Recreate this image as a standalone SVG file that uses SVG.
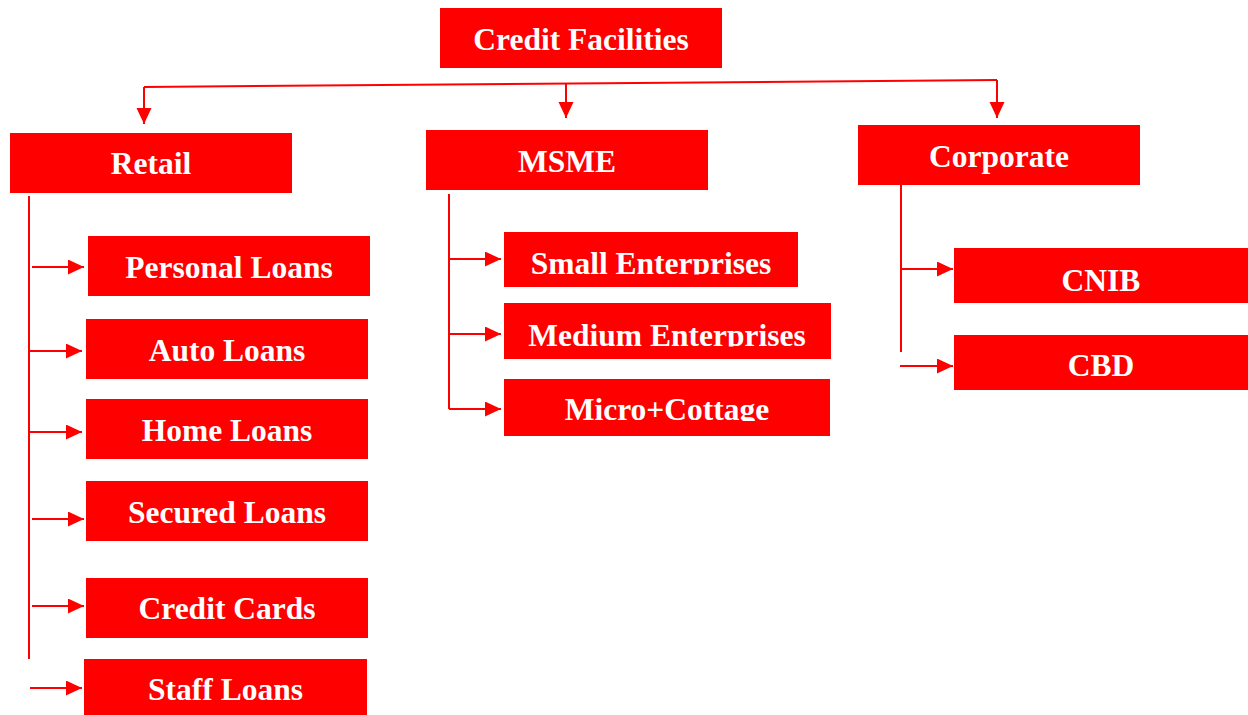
<svg xmlns="http://www.w3.org/2000/svg" width="1248" height="715" viewBox="0 0 1248 715">
<style>
.box{fill:#FF0000;}
.lbl{font-family:"Liberation Serif","Times New Roman",serif;font-weight:bold;font-size:31.5px;fill:#FFFFFF;text-anchor:middle;}
.con{stroke:#FF0000;stroke-width:2;fill:none;}
</style>
<defs>
<marker id="ah" markerUnits="userSpaceOnUse" markerWidth="17" markerHeight="16" refX="16" refY="7.5" orient="auto">
<path d="M0,0 L16,7.5 L0,15 Z" fill="#FF0000"/>
</marker>
<clipPath id="clipSmall"><rect x="504" y="232" width="294" height="42.5"/></clipPath>
<clipPath id="clipMedium"><rect x="504" y="303" width="327" height="43.5"/></clipPath>
<clipPath id="clipMicro"><rect x="504" y="379" width="326" height="42"/></clipPath>
</defs>
<rect width="1248" height="715" fill="#FFFFFF"/>
<g id="connectors">
<path class="con" d="M144,87 L997,80"/>
<path class="con" d="M144,87 L144,124" marker-end="url(#ah)"/>
<path class="con" d="M566,83.5 L566,118" marker-end="url(#ah)"/>
<path class="con" d="M997,80 L997,118" marker-end="url(#ah)"/>
<path class="con" d="M29,196 L29,659"/>
<path class="con" d="M32,267 L84,267" marker-end="url(#ah)"/>
<path class="con" d="M29,351 L82,351" marker-end="url(#ah)"/>
<path class="con" d="M29,432 L82,432" marker-end="url(#ah)"/>
<path class="con" d="M32,519 L84,519" marker-end="url(#ah)"/>
<path class="con" d="M32,606 L84,606" marker-end="url(#ah)"/>
<path class="con" d="M30,688 L82,688" marker-end="url(#ah)"/>
<path class="con" d="M449,194 L449,409"/>
<path class="con" d="M449,259 L501,259" marker-end="url(#ah)"/>
<path class="con" d="M449,334 L501,334" marker-end="url(#ah)"/>
<path class="con" d="M449,409 L501,409" marker-end="url(#ah)"/>
<path class="con" d="M901,185 L901,352"/>
<path class="con" d="M901,269 L953,269" marker-end="url(#ah)"/>
<path class="con" d="M900,366 L953,366" marker-end="url(#ah)"/>
</g>
<g id="credit-facilities"><rect class="box" x="440" y="8" width="282" height="60"/><text class="lbl" x="581" y="50">Credit Facilities</text></g>
<g id="retail"><rect class="box" x="10" y="133" width="282" height="60"/><text class="lbl" x="151" y="174">Retail</text></g>
<g id="msme"><rect class="box" x="426" y="130" width="282" height="60"/><text class="lbl" x="567" y="172">MSME</text></g>
<g id="corporate"><rect class="box" x="858" y="125" width="282" height="60"/><text class="lbl" x="999" y="167">Corporate</text></g>
<g id="personal-loans"><rect class="box" x="88" y="236" width="282" height="60"/><text class="lbl" x="229" y="278">Personal Loans</text></g>
<g id="auto-loans"><rect class="box" x="86" y="319" width="282" height="60"/><text class="lbl" x="227" y="361">Auto Loans</text></g>
<g id="home-loans"><rect class="box" x="86" y="399" width="282" height="60"/><text class="lbl" x="227" y="441">Home Loans</text></g>
<g id="secured-loans"><rect class="box" x="86" y="481" width="282" height="60"/><text class="lbl" x="227" y="523">Secured Loans</text></g>
<g id="credit-cards"><rect class="box" x="86" y="578" width="282" height="60"/><text class="lbl" x="227" y="619">Credit Cards</text></g>
<g id="staff-loans"><rect class="box" x="84" y="659" width="283" height="56"/><text class="lbl" x="225.5" y="700">Staff Loans</text></g>
<g id="small-enterprises"><rect class="box" x="504" y="232" width="294" height="55"/><text class="lbl" x="651" y="274" clip-path="url(#clipSmall)">Small Enterprises</text></g>
<g id="medium-enterprises"><rect class="box" x="504" y="303" width="327" height="56"/><text class="lbl" x="667" y="346" clip-path="url(#clipMedium)">Medium Enterprises</text></g>
<g id="micro-cottage"><rect class="box" x="504" y="379" width="326" height="57"/><text class="lbl" x="667" y="420" clip-path="url(#clipMicro)">Micro+Cottage</text></g>
<g id="cnib"><rect class="box" x="954" y="248" width="294" height="55"/><text class="lbl" x="1101" y="291">CNIB</text></g>
<g id="cbd"><rect class="box" x="954" y="335" width="294" height="55"/><text class="lbl" x="1101" y="376">CBD</text></g>
</svg>
